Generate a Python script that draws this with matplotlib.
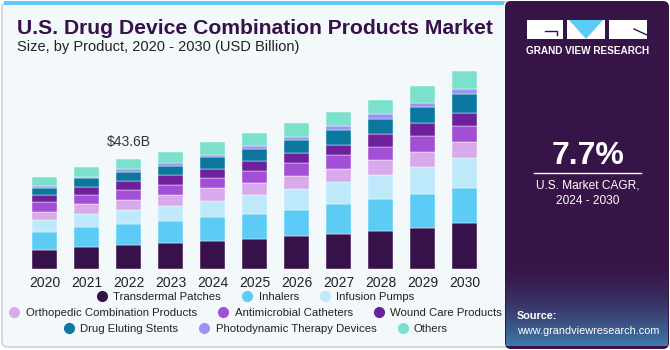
import matplotlib
matplotlib.use("Agg")
import matplotlib.pyplot as plt
import numpy as np
from matplotlib.patches import FancyBboxPatch, Rectangle, Polygon
from matplotlib.lines import Line2D
from matplotlib.colors import to_rgb

plt.rcParams['font.family'] = ['Liberation Sans', 'DejaVu Sans']

years = ['2020', '2021', '2022', '2023', '2024', '2025', '2026', '2027', '2028', '2029', '2030']
segments = ['Transdermal Patches', 'Inhalers', 'Infusion Pumps',
            'Orthopedic Combination Products', 'Antimicrobial Catheters', 'Wound Care Products',
            'Drug Eluting Stents', 'Photodynamic Therapy Devices', 'Others']
colors = ['#37114a', '#5ccbf6', '#bde9fa', '#d8aaec', '#a24fd6',
          '#6c209b', '#0b779f', '#9b94f6', '#7be0cc']

# USD billion
transdermal = [7.66, 8.85, 9.38, 10.17, 10.96, 11.89, 13.21, 14.00, 15.19, 16.38, 18.10]
inhalers = [7.13, 7.66, 8.32, 8.85, 9.64, 9.91, 10.30, 11.62, 12.42, 13.21, 14.13]
infusion = [4.62, 5.42, 5.81, 6.08, 6.47, 7.66, 8.32, 8.85, 9.78, 10.96, 11.62]
orthopedic = [3.30, 3.70, 3.83, 4.36, 4.89, 4.49, 5.15, 5.28, 5.68, 5.94, 6.34]
antimicrobial = [3.70, 3.83, 4.10, 3.96, 4.23, 5.02, 4.89, 5.55, 5.42, 6.34, 6.61]
wound = [2.77, 3.17, 3.30, 3.70, 3.57, 3.70, 3.96, 3.96, 4.89, 4.89, 5.02]
stents = [3.04, 3.30, 3.83, 3.83, 4.49, 5.02, 5.15, 5.94, 5.94, 6.61, 7.40]
photodynamic = [0.53, 0.66, 0.92, 1.06, 1.06, 1.19, 1.45, 1.59, 1.98, 1.59, 1.98]
others = [3.70, 3.83, 4.10, 4.36, 4.89, 5.15, 5.28, 5.42, 5.68, 6.74, 7.27]
series = [transdermal, inhalers, infusion, orthopedic, antimicrobial,
          wound, stents, photodynamic, others]

label_year = 2
label_text = '$43.6B'
cagr = '7.7%'

W, H = 670, 350
fig = plt.figure(figsize=(W / 100, H / 100), dpi=100)
fig.patch.set_facecolor('white')

# background / panels drawn in pixel coords
bg = fig.add_axes([0, 0, 1, 1])
bg.set_xlim(0, W)
bg.set_ylim(H, 0)
bg.axis('off')
bg.add_patch(FancyBboxPatch((2, 2), 520, 345, boxstyle='round,pad=0,rounding_size=6',
                            fc='#f3f8fb', ec='#cfd3d6', lw=1.2))
bg.add_patch(Rectangle((4, 1), 500, 4, fc='#5ccbf6', ec='none'))
bg.add_patch(FancyBboxPatch((505, 1), 164, 348, boxstyle='round,pad=0,rounding_size=6',
                            fc='#371447', ec='none'))
# bottom gradient of the right panel: dark purple at y=262 fading to blue at the bottom
c0 = np.array(to_rgb('#371447'))
c1 = np.array(to_rgb('#3f7aab'))
for yy in range(262, 346):
    t = ((yy - 262) / 84) ** 1.6
    bg.add_patch(Rectangle((506, yy), 162, 1.05, fc=tuple(c0 + (c1 - c0) * t), ec='none', zorder=2))

# logo
bg.add_patch(Rectangle((527, 20), 36, 19, fc='white', ec='none', zorder=3))
bg.add_patch(Rectangle((567, 20), 38, 19, fc='white', ec='none', zorder=3))
bg.add_patch(Polygon([(569, 20), (603, 20), (586, 39)], closed=True, fc='#5ccbf6', ec='none', zorder=4))
bg.add_patch(Rectangle((609, 20), 38, 19, fc='white', ec='none', zorder=3))
bg.plot([545, 557, 557], [31, 31, 35], color='#371447', lw=1, zorder=4)
bg.plot([634, 647], [29, 35], color='#371447', lw=1, zorder=4)
bg.text(588, 51, 'GRAND VIEW RESEARCH', color='white', fontsize=7.2, fontweight='bold',
        ha='center', va='center', zorder=5)

bg.text(588, 156, cagr, color='white', fontsize=23, fontweight='bold', ha='center', va='center', zorder=5)
bg.plot([534, 641], [173, 173], color='white', lw=1, zorder=5)
bg.text(588, 180, 'U.S. Market CAGR,\n2024 - 2030', color='white', fontsize=8.6, ha='center',
        va='top', linespacing=1.35, zorder=5)
bg.text(517, 316, 'Source:', color='white', fontsize=7.8, fontweight='bold', ha='left', va='center', zorder=5)
bg.text(517, 331, 'www.grandviewresearch.com', color='white', fontsize=7.8, ha='left', va='center', zorder=5)

bg.text(17, 29, 'U.S. Drug Device Combination Products Market', color='#37114a',
        fontsize=15.2, fontweight='bold', ha='left', va='center')
bg.text(17, 47, 'Size, by Product, 2020 - 2030 (USD Billion)', color='#222222',
        fontsize=10.5, ha='left', va='center')

# chart axes: bar centres at 44.5 + 42*i px, baseline at y=269 px
left_px, right_px = 22, 488
bottom_px, top_px = 269, 60
ax = fig.add_axes([left_px / W, 1 - bottom_px / H, (right_px - left_px) / W, (bottom_px - top_px) / H])
ax.patch.set_alpha(0)
x = np.arange(len(years))
ax.set_xlim((left_px - 44.5) / 42, (right_px - 44.5) / 42)
ax.set_ylim(0, (bottom_px - top_px) / 2.523)

bottom = np.zeros(len(years))
for vals, c, name in zip(series, colors, segments):
    ax.bar(x, vals, bottom=bottom, width=0.6, color=c, label=name, edgecolor='white', linewidth=0.3)
    bottom += np.array(vals)

ax.text(x[label_year], bottom[label_year] + 4, label_text, ha='center', va='bottom',
        fontsize=10, color='#333333')

ax.set_xticks(x)
ax.set_xticklabels(years, fontsize=10, color='#222222')
ax.tick_params(axis='x', length=0, pad=5)
ax.set_yticks([])
for s in ax.spines.values():
    s.set_visible(False)

rows = [[0, 1, 2], [3, 4, 5], [6, 7, 8]]
row_y = [297, 313, 329]
for r, yy in zip(rows, row_y):
    handles = [Line2D([], [], marker='o', ls='none', color=colors[i], markersize=7) for i in r]
    fig.legend(handles, [segments[i] for i in r], loc='center', bbox_to_anchor=(256 / W, 1 - yy / H),
               ncol=3, frameon=False, fontsize=8.2, handlelength=0.8, handletextpad=0.6,
               columnspacing=1.9, borderpad=0, labelcolor='#222222')

fig.savefig('out.png', dpi=100)
